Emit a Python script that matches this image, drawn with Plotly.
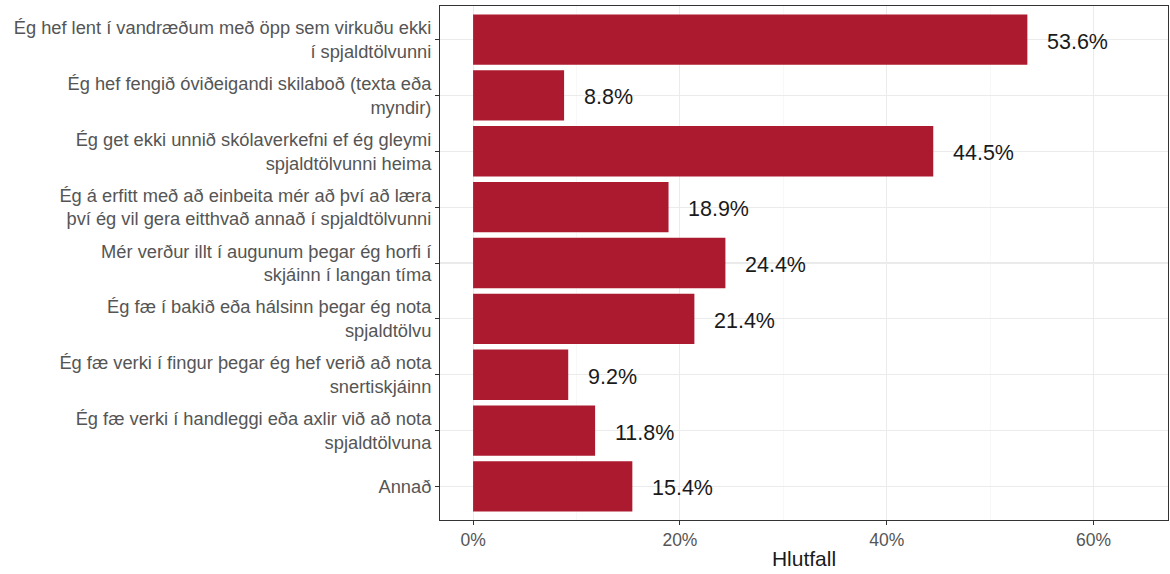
import plotly.graph_objects as go

categories = [
    "Ég hef lent í vandræðum með öpp sem virkuðu ekki<br>í spjaldtölvunni",
    "Ég hef fengið óviðeigandi skilaboð (texta eða<br>myndir)",
    "Ég get ekki unnið skólaverkefni ef ég gleymi<br>spjaldtölvunni heima",
    "Ég á erfitt með að einbeita mér að því að læra<br>því ég vil gera eitthvað annað í spjaldtölvunni",
    "Mér verður illt í augunum þegar ég horfi í<br>skjáinn í langan tíma",
    "Ég fæ í bakið eða hálsinn þegar ég nota<br>spjaldtölvu",
    "Ég fæ verki í fingur þegar ég hef verið að nota<br>snertiskjáinn",
    "Ég fæ verki í handleggi eða axlir við að nota<br>spjaldtölvuna",
    "Annað",
]
values = [53.6, 8.8, 44.5, 18.9, 24.4, 21.4, 9.2, 11.8, 15.4]
labels = [f"{v:.1f}%" for v in values]
x_ticks = [0, 20, 40, 60]
x_ticklabels = ["0%", "20%", "40%", "60%"]

FONT = "Liberation Sans, Arial, sans-serif"

fig = go.Figure()
fig.add_trace(go.Bar(
    y=categories, x=values, orientation="h",
    marker=dict(color="#AC1A2F", line=dict(width=0)),
    width=0.9, hoverinfo="skip",
))
for cat, v, lab in zip(categories, values, labels):
    fig.add_annotation(
        x=v + 1.7, y=cat, text=lab, showarrow=False,
        xanchor="left", yanchor="middle", yshift=-2,
        font=dict(family=FONT, size=21.5, color="#1A1A1A"),
    )

fig.update_layout(
    width=1170, height=574,
    margin=dict(l=440, r=2, t=6, b=54),
    plot_bgcolor="white", paper_bgcolor="white",
    showlegend=False,
    font=dict(family=FONT),
    bargap=0.1,
)
fig.update_xaxes(
    range=[-3.2, 67.2],
    tickvals=x_ticks, ticktext=x_ticklabels,
    tickfont=dict(size=17.5, color="#555555"),
    ticks="outside", ticklen=4, tickcolor="#333333", tickwidth=1,
    showgrid=True, gridcolor="#EBEBEB", gridwidth=1.1,
    minor=dict(tickvals=[10, 30, 50], showgrid=True, gridcolor="#F3F3F3", gridwidth=0.6, ticks=""),
    zeroline=False,
    showline=True, linecolor="#333333", linewidth=1, mirror=True,
    title=dict(text="Hlutfall", font=dict(size=21, color="#1A1A1A"), standoff=2),
)
fig.update_yaxes(
    categoryorder="array", categoryarray=categories,
    range=[len(categories) - 0.4, -0.6],
    tickfont=dict(size=18.3, color="#555555"),
    ticks="outside", ticklen=4, tickcolor="#333333", tickwidth=1,
    showgrid=True, gridcolor="#EBEBEB", gridwidth=1.1,
    zeroline=False,
    showline=True, linecolor="#333333", linewidth=1, mirror=True,
)

fig.write_html(
    "out.html",
    config={"displayModeBar": False, "staticPlot": True},
    post_script="document.body.style.margin='0';document.body.style.overflow='hidden';",
)
